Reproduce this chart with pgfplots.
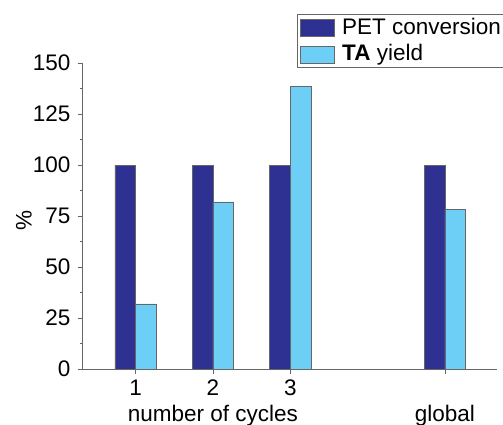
\documentclass[border=0pt]{standalone}
\usepackage{pgfplots}
\pgfplotsset{compat=1.18}
\usepackage{fontspec}
\setmainfont{Liberation Sans}
\definecolor{darkb}{HTML}{2E3192}
\definecolor{lightb}{HTML}{6DCFF6}
\definecolor{axgray}{HTML}{666666}
\begin{document}
\fontsize{22.5}{26}\selectfont
\begin{tikzpicture}
\begin{axis}[
  x=77.3pt, y=2.04pt,
  xmin=0.314, xmax=5.675, ymin=0, ymax=150,
  axis x line=bottom, axis y line=left,
  axis line style={-, axgray, line width=0.6pt},
  clip=false,
  ytick={0,25,50,75,100,125,150},
  minor ytick={12.5,37.5,62.5,87.5,112.5,137.5},
  xtick={1,2,3,5},
  xticklabels={1,2,3,},
  tick align=outside,
  major tick length=5pt, minor tick length=2.5pt,
  tick style={axgray, line width=0.6pt},
  ticklabel style={font=\fontsize{22.5}{26}\selectfont},
  /pgf/number format/assume math mode=true,
  yticklabel style={xshift=0.5pt},
  xticklabel style={yshift=2pt},
  ybar=0pt, bar width=20.7pt,
  legend style={at={(axis cs:3.091,174.0)}, anchor=north west, draw=axgray, line width=0.6pt,
    font=\fontsize{22.5}{26}\selectfont, inner xsep=2pt, inner ysep=1.5pt, row sep=3pt,
    legend cell align=left, nodes={inner xsep=4pt}},
  legend image code/.code={\draw[#1, draw=axgray, line width=0.6pt] (0pt,-8.5pt) rectangle (34pt,8.5pt);},
]
\addplot[fill=darkb, draw=axgray, line width=0.4pt] coordinates {(1,100) (2,100) (3,100) (5,100)};
\addplot[fill=lightb, draw=axgray, line width=0.4pt] coordinates {(1,32) (2,82) (3,138.4) (5,78.3)};
\legend{\hspace{4pt}PET conversion, \hspace{4pt}\textbf{TA} yield}
\node[anchor=base] at (axis cs:2,-25.5) {number of cycles};
\node[anchor=base] at (axis cs:5,-25.5) {global};
\node[rotate=90] at (axis cs:-0.445,73) {\%};
\coordinate (bl) at (axis cs:-0.755,-26.96);
\coordinate (tr) at (axis cs:5.752,180.9);
\end{axis}
\pgfresetboundingbox
\path[use as bounding box] (bl) rectangle (tr);
\end{tikzpicture}
\end{document}
